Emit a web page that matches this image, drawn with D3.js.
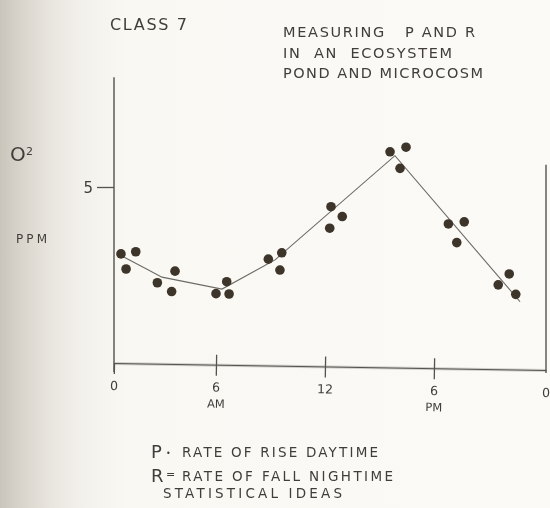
<!DOCTYPE html>
<html>
<head>
<meta charset="utf-8">
<script src="https://cdn.jsdelivr.net/npm/d3@7"></script>
<style>
  html, body { margin: 0; padding: 0; background: #f8f7f2; }
  svg { display: block; }
  text { font-family: "DejaVu Sans", sans-serif; fill: #403e3a; }
</style>
</head>
<body>
<svg id="chart" width="550" height="508"></svg>
<script>
// ---- data (hours after midnight, O2 ppm) ----
const obsHours = [0.41, 1.28, 0.71, 2.55, 3.59, 3.39, 6.0, 6.59, 6.72, 8.88, 9.62, 9.52,
                  12.33, 12.95, 12.26, 15.58, 16.46, 16.13, 18.77, 19.62, 19.22, 22.03, 21.44, 22.38];
const obsPpm   = [3.10, 3.16, 2.67, 2.28, 2.61, 2.03, 1.97, 2.31, 1.96, 2.95, 3.13, 2.64,
                  4.44, 4.16, 3.83, 6.00, 6.13, 5.53, 3.95, 4.01, 3.42, 2.53, 2.22, 1.95];
const lineHours = [0.35, 2.82, 6.33, 9.25, 15.85, 22.61];
const linePpm   = [3.07, 2.44, 2.10, 2.93, 5.89, 1.74];
const xTickValues = [0, 6, 12, 18, 24];
const xTickLabels = ["0", "6", "12", "6", "0"];
const xTickSub = ["", "AM", "", "PM", ""];
const yTickValues = [5];
const yMax = 8.12;
const rightAxisTop = 5.63;
const titleLines = ["MEASURING   P AND R", "IN  AN  ECOSYSTEM", "POND AND MICROCOSM"];
const classLabel = "CLASS 7";
const notes = ["RATE OF RISE DAYTIME", "RATE OF FALL NIGHTIME", "STATISTICAL IDEAS"];

const svg = d3.select("#chart");

// paper background with darker scanned left edge
const defs = svg.append("defs");
const grad = defs.append("linearGradient").attr("id", "paper").attr("x1", 0).attr("x2", 1).attr("y1", 0).attr("y2", 0);
[[0, "#cac5bb"], [0.04, "#d9d5cc"], [0.09, "#e8e5de"], [0.15, "#f3f1eb"], [0.23, "#f9f8f3"], [1, "#fbfaf6"]]
  .forEach(([o, c]) => grad.append("stop").attr("offset", o).attr("stop-color", c));
svg.append("rect").attr("width", 550).attr("height", 508).attr("fill", "url(#paper)");
const blur = defs.append("filter").attr("id", "soft").attr("x", "-20%").attr("y", "-20%").attr("width", "140%").attr("height", "140%");
blur.append("feGaussianBlur").attr("stdDeviation", 0.45);

// scales (hand-drawn axis: tick spacing slightly uneven)
const x = d3.scaleLinear().domain([0, 6, 12, 18, 24]).range([114, 216, 325, 434, 546]);
const y = d3.scaleLinear().domain([0, 5]).range([363, 187]);

const ink = "#55524c";
const g = svg.append("g").attr("filter", "url(#soft)");

// left axis
g.append("line").attr("x1", x(0)).attr("x2", x(0)).attr("y1", y(yMax)).attr("y2", y(0) + 9)
  .attr("stroke", ink).attr("stroke-width", 1.4);
const yAxis = d3.axisLeft(y).tickValues(yTickValues).tickSize(17).tickFormat(d3.format("d"));
const yg = g.append("g").attr("transform", `translate(${x(0)},0)`).call(yAxis);
yg.select(".domain").remove();
yg.selectAll(".tick line").attr("stroke", ink).attr("stroke-width", 1.3);
yg.selectAll(".tick text").attr("x", -21).attr("dy", "0.38em").style("font-size", "15px")
  .style("font-family", "DejaVu Sans").attr("fill", "#403e3a");

// right axis
g.append("line").attr("x1", x(24)).attr("x2", x(24)).attr("y1", y(rightAxisTop)).attr("y2", y(0) + 10)
  .attr("stroke", ink).attr("stroke-width", 1.4);

// bottom axis, drawn with a slight tilt like the original
const angle = Math.atan2(7, x(24) - x(0)) * 180 / Math.PI;
const xAxis = d3.axisBottom(x).tickValues(xTickValues).tickSize(0).tickSizeOuter(0)
  .tickFormat((d, i) => xTickLabels[i]);
const xg = g.append("g")
  .attr("transform", `translate(0,${y(0)}) rotate(${angle},${x(0)},0)`)
  .call(xAxis);
xg.select(".domain").attr("stroke", ink).attr("stroke-width", 1.3);
xg.selectAll(".tick line").attr("y1", -10).attr("y2", 11).attr("stroke", ink).attr("stroke-width", 1.3);
xg.selectAll(".tick text").attr("y", 27).attr("dy", 0).style("font-size", "12.5px")
  .style("font-family", "DejaVu Sans").attr("fill", "#403e3a");
xg.selectAll(".tick").append("text")
  .text((d, i) => xTickSub[i]).attr("y", 43).attr("text-anchor", "middle")
  .style("font-size", "11.5px").attr("fill", "#403e3a");
xg.selectAll(".tick").filter((d, i) => i === 0).select("line").attr("y1", 0);
xg.selectAll(".tick").filter((d, i) => i === 4).select("line").remove();

// fitted line
const line = d3.line().x(d => x(d[0])).y(d => y(d[1]));
g.append("path").datum(lineHours.map((h, i) => [h, linePpm[i]]))
  .attr("d", line).attr("fill", "none").attr("stroke", "#6d6a64").attr("stroke-width", 1.1);

// observations
g.append("g").selectAll("circle").data(obsHours.map((h, i) => [h, obsPpm[i]])).join("circle")
  .attr("cx", d => x(d[0])).attr("cy", d => y(d[1])).attr("r", 4.8).attr("fill", "#3c352b");

// texts
function txt(s, px, py, size, len, anchor) {
  const t = g.append("text").attr("x", px).attr("y", py).style("font-size", size + "px")
    .style("white-space", "pre").text(s);
  if (len) t.attr("textLength", len).attr("lengthAdjust", "spacing");
  if (anchor) t.attr("text-anchor", anchor);
  return t;
}
txt(classLabel, 110, 30, 16, 77);
txt(titleLines[0], 283, 37, 14.5, 192);
txt(titleLines[1], 283, 58, 14.5, 169);
txt(titleLines[2], 283, 78, 14.5, 200);

// y label O2 / PPM
txt("O", 10, 161, 20);
txt("2", 26, 155, 11);
txt("PPM", 16, 243, 12, 31);

// legend notes
txt("P", 151, 458, 18);
txt("•", 166, 456, 8);
txt(notes[0], 182, 457, 13.5, 196);
txt("R", 151, 482, 18);
txt("=", 166, 478, 11);
txt(notes[1], 182, 481, 13.5, 211);
txt(notes[2], 163, 498, 13.5, 179);
</script>
</body>
</html>
